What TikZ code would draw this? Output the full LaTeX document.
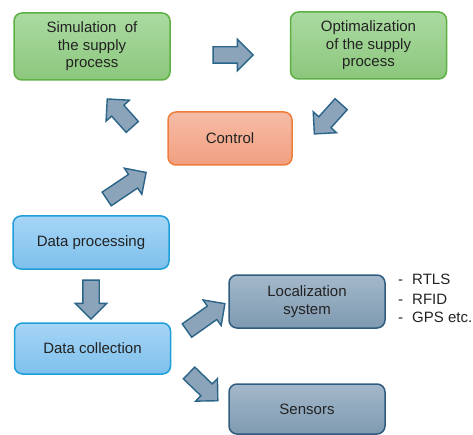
\documentclass[tikz,border=0pt]{standalone}
\usepackage{fontspec}
\setmainfont{Liberation Sans}
\usetikzlibrary{shapes.arrows}

\definecolor{txt}{HTML}{222222}
\definecolor{grnTop}{HTML}{AADAA0}
\definecolor{grnBot}{HTML}{8CC77D}
\definecolor{grnLine}{HTML}{5DB043}
\definecolor{orgTop}{HTML}{F6BCA6}
\definecolor{orgBot}{HTML}{F29F80}
\definecolor{orgLine}{HTML}{EE7D3A}
\definecolor{bluTop}{HTML}{A6D5F6}
\definecolor{bluBot}{HTML}{7EC0EC}
\definecolor{bluLine}{HTML}{1E9FDA}
\definecolor{slaTop}{HTML}{A3B8CA}
\definecolor{slaBot}{HTML}{7F9AB1}
\definecolor{slaLine}{HTML}{2F5C7E}
\definecolor{arrFill}{HTML}{8CA4B9}
\definecolor{arrLine}{HTML}{2A6489}

\tikzset{
  box/.style={rounded corners=8pt, line width=1.5pt, align=center,
    text=txt, font=\fontsize{15}{17.5}\selectfont, inner sep=2pt},
  greenbox/.style={box, draw=grnLine, top color=grnTop, bottom color=grnBot,
    minimum width=156pt, minimum height=67pt},
  orangebox/.style={box, draw=orgLine, top color=orgTop, bottom color=orgBot,
    minimum width=124pt, minimum height=53pt},
  bluebox/.style={box, draw=bluLine, top color=bluTop, bottom color=bluBot,
    minimum width=156pt, minimum height=53pt},
  slatebox/.style={box, draw=slaLine, top color=slaTop, bottom color=slaBot,
    minimum width=156pt, minimum height=53pt},
  % shaft 15pt wide, head 30pt wide
  blockarrow/.style={single arrow, draw=arrLine, fill=arrFill, line width=1.4pt,
    minimum width=30pt, single arrow head extend=7.5pt,
    inner xsep=0pt, inner ysep=7.5pt, text height=0pt, text depth=0pt,
    line join=miter, minimum height=#1},
  listitem/.style={anchor=base west, text=txt, font=\fontsize{15}{17.5}\selectfont,
    inner sep=0pt}
}

\begin{document}
\begin{tikzpicture}[x=1pt, y=-1pt]
  \useasboundingbox (0,0) rectangle (473,435);

  % process boxes
  \node[greenbox]  (sim)  at (92,46.5)   {Simulation\ \ of\\the supply\\process};
  \node[greenbox]  (opt)  at (368.5,45.5) {Optimalization\\of the supply\\process};
  \node[orangebox] (ctrl) at (230,138.5) {Control};
  \node[bluebox]   (proc) at (91,242.5)  {Data processing};
  \node[bluebox, minimum height=51pt] (coll) at (92.5,348.5) {Data collection};
  \node[slatebox]  (loc)  at (307,301.5) {Localization\\system};
  \node[slatebox, minimum height=50pt] (sens) at (307,409) {Sensors};

  % localization technologies
  \node[listitem] (l1dash) at (398,284.5) {-};
  \node[listitem] (l1) at (412,284.5) {RTLS};
  \node[listitem] (l2dash) at (398,304) {-};
  \node[listitem] (l2) at (412,304) {RFID};
  \node[listitem] (l3dash) at (398,322.5) {-};
  \node[listitem] (l3) at (412,322.5) {GPS etc.};

  % block arrows between the stages
  \node[blockarrow=40pt]   (a1) at (229,55)      {};
  \node[blockarrow=40pt,   rotate=-132] (a2) at (330.5,116) {};
  \node[blockarrow=37.5pt, rotate=131.8] (a3) at (122.5,116) {};
  \node[blockarrow=47.5pt, rotate=33.9] (a4) at (123,188) {};
  \node[blockarrow=39pt,   rotate=-90] (a5) at (91,295.5) {};
  \node[blockarrow=46.5pt, rotate=35.3] (a6) at (202.6,319.5) {};
  \node[blockarrow=40pt,   rotate=-44] (a7) at (200.5,384) {};
\end{tikzpicture}
\end{document}
